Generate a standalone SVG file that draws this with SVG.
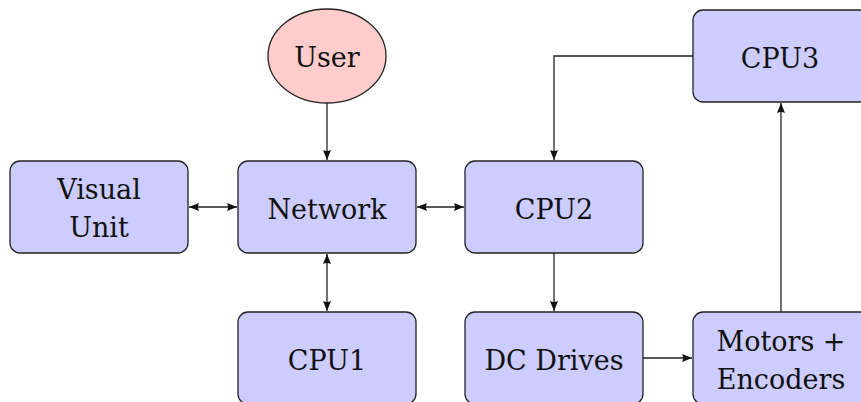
<svg xmlns="http://www.w3.org/2000/svg" width="861" height="402" viewBox="0 0 861 402">
<style>
.box{fill:#ccccff;stroke:#222;stroke-width:1.3}
.ell{fill:#ffcccc;stroke:#222;stroke-width:1.3}
.t{font-family:'DejaVu Serif','Liberation Serif',serif;font-size:27px;fill:#111;text-anchor:middle}
.c{fill:none;stroke:#222;stroke-width:1.3}
</style>
<defs>
<marker id="ah" viewBox="0 0 10 10" refX="10" refY="5" markerWidth="10" markerHeight="10" markerUnits="userSpaceOnUse" orient="auto-start-reverse">
<path d="M0,1 L10,5 L0,9 Q2,5 0,1 Z" fill="#111"/>
</marker>
</defs>
<rect width="861" height="402" fill="#fff"/>
<g id="connectors">
<line class="c" x1="327" y1="103" x2="327" y2="160" marker-end="url(#ah)"/>
<line class="c" x1="189" y1="207" x2="237" y2="207" marker-start="url(#ah)" marker-end="url(#ah)"/>
<line class="c" x1="417" y1="207" x2="464" y2="207" marker-start="url(#ah)" marker-end="url(#ah)"/>
<line class="c" x1="327" y1="254" x2="327" y2="311" marker-start="url(#ah)" marker-end="url(#ah)"/>
<line class="c" x1="554" y1="253" x2="554" y2="311" marker-end="url(#ah)"/>
<line class="c" x1="643" y1="358" x2="692" y2="358" marker-end="url(#ah)"/>
<line class="c" x1="781" y1="312" x2="781" y2="103" marker-end="url(#ah)"/>
<polyline class="c" points="693,56 554,56 554,160" marker-end="url(#ah)"/>
</g>
<g id="user">
<ellipse class="ell" cx="327" cy="56" rx="59" ry="47"/>
<text class="t" x="327" y="67">User</text>
</g>
<g id="visual-unit">
<rect class="box" x="10" y="161" width="178" height="92" rx="10"/>
<text class="t" x="99" y="199">Visual</text>
<text class="t" x="99" y="237">Unit</text>
</g>
<g id="network">
<rect class="box" x="238" y="161" width="178" height="92" rx="10"/>
<text class="t" x="327" y="219">Network</text>
</g>
<g id="cpu2">
<rect class="box" x="465" y="161" width="178" height="92" rx="10"/>
<text class="t" x="554" y="219">CPU2</text>
</g>
<g id="cpu3">
<rect class="box" x="693" y="10" width="178" height="92" rx="10"/>
<text class="t" x="780" y="68">CPU3</text>
</g>
<g id="cpu1">
<rect class="box" x="238" y="312" width="178" height="92" rx="10"/>
<text class="t" x="327" y="370">CPU1</text>
</g>
<g id="dc-drives">
<rect class="box" x="465" y="312" width="178" height="92" rx="10"/>
<text class="t" x="554" y="370">DC Drives</text>
</g>
<g id="motors-encoders">
<rect class="box" x="693" y="312" width="178" height="92" rx="10"/>
<text class="t" x="781" y="351">Motors +</text>
<text class="t" x="781" y="389">Encoders</text>
</g>
</svg>
